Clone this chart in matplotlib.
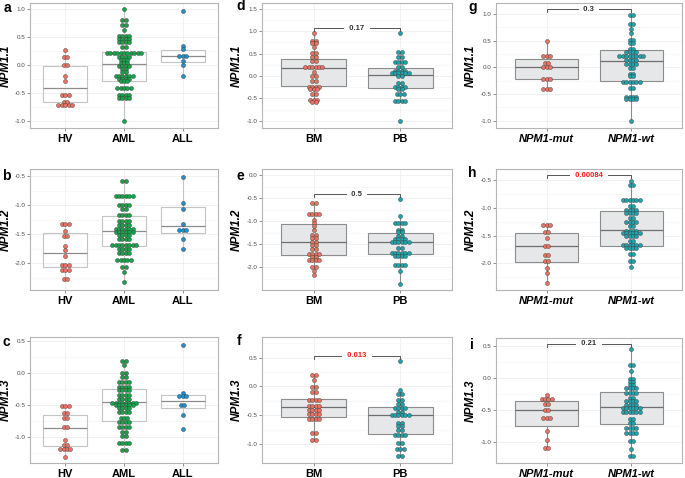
import numpy as np
import matplotlib
matplotlib.use('Agg')
import matplotlib.pyplot as plt
from matplotlib.ticker import MultipleLocator, FormatStrFormatter

plt.rcParams['font.family'] = ['Liberation Sans', 'DejaVu Sans']
plt.rcParams['axes.unicode_minus'] = False

FIG_W, FIG_H = 685, 478

# category labels
cat_disease = ['HV', 'AML', 'ALL']
cat_site = ['BM', 'PB']
cat_npm = ['NPM1-mut', 'NPM1-wt']

# ---- a: NPM1.1 by disease (dot level, dots at that level) ----
a_hv_vals = [0.28, 0.14, 0.0, -0.20, -0.29, -0.53, -0.65, -0.71]
a_hv_counts = [1, 2, 2, 1, 1, 3, 2, 5]
a_aml_vals = [1.0, 0.80, 0.71, 0.63, 0.53, 0.47, 0.41, 0.33, 0.22, 0.14, 0.09,
              0.04, -0.01, -0.06, -0.12, -0.20, -0.25, -0.29, -0.40, -0.53, -0.58, -1.0]
a_aml_counts = [1, 2, 2, 1, 4, 4, 4, 2, 11, 4, 3, 3, 4, 2, 2, 6, 4, 3, 5, 4, 4, 1]
a_all_vals = [0.96, 0.34, 0.29, 0.17, 0.08, 0.0, -0.19]
a_all_counts = [1, 1, 1, 3, 1, 1, 1]
a_q1 = [-0.66, -0.28, 0.05]
a_med = [-0.40, 0.03, 0.17]
a_q3 = [-0.01, 0.24, 0.28]

# ---- b: NPM1.2 by disease ----
b_hv_vals = [-1.33, -1.45, -1.53, -1.71, -1.78, -1.87, -2.03, -2.11, -2.27]
b_hv_counts = [3, 1, 2, 1, 1, 1, 3, 3, 2]
b_aml_vals = [-0.59, -0.84, -1.00, -1.07, -1.17, -1.27, -1.34, -1.41, -1.46, -1.51,
              -1.59, -1.69, -1.75, -1.82, -1.94, -2.07, -2.15, -2.33]
b_aml_counts = [2, 6, 4, 2, 4, 4, 4, 6, 6, 4, 4, 8, 4, 4, 5, 2, 1, 1]
b_all_vals = [-0.52, -0.96, -1.06, -1.33, -1.43, -1.58, -1.75]
b_all_counts = [1, 1, 1, 1, 3, 1, 1]
b_q1 = [-2.06, -1.71, -1.48]
b_med = [-1.83, -1.44, -1.36]
b_q3 = [-1.48, -1.19, -1.04]

# ---- c: NPM1.3 by disease ----
c_hv_vals = [-0.52, -0.63, -0.71, -0.85, -1.05, -1.12, -1.19, -1.31]
c_hv_counts = [3, 2, 2, 2, 1, 2, 4, 1]
c_aml_vals = [0.20, 0.13, 0.0, -0.06, -0.13, -0.22, -0.27, -0.34, -0.40, -0.46,
              -0.50, -0.55, -0.61, -0.70, -0.77, -0.84, -0.93, -0.98, -1.10, -1.21]
c_aml_counts = [2, 1, 2, 2, 4, 4, 4, 4, 4, 8, 6, 4, 4, 3, 4, 4, 2, 2, 4, 2]
c_all_vals = [0.45, -0.31, -0.36, -0.50, -0.65, -0.87]
c_all_counts = [1, 1, 3, 2, 1, 1]
c_q1 = [-1.15, -0.75, -0.55]
c_med = [-0.86, -0.45, -0.43]
c_q3 = [-0.65, -0.25, -0.34]

# ---- d: NPM1.1 by sample site ----
d_bm_vals = [0.97, 0.79, 0.73, 0.64, 0.51, 0.43, 0.33, 0.21, 0.10, -0.01, -0.12,
             -0.24, -0.29, -0.40, -0.54, -0.59]
d_bm_counts = [1, 2, 2, 1, 2, 2, 2, 6, 1, 2, 2, 4, 3, 2, 3, 2]
d_pb_vals = [0.95, 0.53, 0.43, 0.31, 0.21, 0.12, 0.06, -0.01, -0.16, -0.24, -0.29,
             -0.40, -0.55, -1.01]
d_pb_counts = [1, 2, 2, 4, 2, 4, 6, 2, 2, 4, 2, 3, 4, 1]
d_q1 = [-0.23, -0.27]
d_med = [0.18, 0.02]
d_q3 = [0.39, 0.19]
d_p = '0.17'

# ---- e: NPM1.2 by sample site ----
e_bm_vals = [-0.60, -0.84, -0.97, -1.03, -1.10, -1.18, -1.30, -1.37, -1.44, -1.52,
             -1.61, -1.71, -1.78, -1.84, -1.99, -2.08, -2.17]
e_bm_counts = [2, 4, 1, 1, 1, 1, 2, 2, 2, 2, 2, 4, 2, 4, 2, 1, 1]
e_pb_vals = [-0.53, -0.89, -1.03, -1.18, -1.23, -1.32, -1.39, -1.44, -1.59, -1.68,
             -1.75, -1.95, -2.07, -2.36]
e_pb_counts = [1, 1, 4, 2, 2, 2, 4, 6, 2, 6, 4, 4, 1, 1]
e_q1 = [-1.73, -1.70]
e_med = [-1.46, -1.46]
e_q3 = [-1.06, -1.25]
e_p = '0.5'

# ---- f: NPM1.3 by sample site ----
f_bm_vals = [0.20, 0.11, -0.01, -0.10, -0.23, -0.34, -0.41, -0.48, -0.56, -0.80, -0.93]
f_bm_counts = [2, 1, 2, 2, 4, 4, 4, 4, 4, 2, 2]
f_pb_vals = [0.45, -0.06, -0.13, -0.23, -0.31, -0.38, -0.44, -0.50, -0.63, -0.69,
             -0.75, -0.85, -0.98, -1.09, -1.21]
f_pb_counts = [1, 1, 2, 2, 2, 4, 2, 6, 2, 2, 2, 4, 2, 3, 2]
f_q1 = [-0.53, -0.83]
f_med = [-0.35, -0.50]
f_q3 = [-0.21, -0.36]
f_p = '0.013'

# ---- g: NPM1.1 by NPM1 status ----
g_mut_vals = [0.50, 0.22, 0.09, 0.0, -0.21, -0.41]
g_mut_counts = [1, 3, 2, 3, 3, 3]
g_wt_vals = [0.98, 0.81, 0.73, 0.65, 0.52, 0.45, 0.34, 0.29, 0.21, 0.14, 0.07,
             -0.02, -0.12, -0.17, -0.27, -0.38, -0.55, -0.60, -1.0]
g_wt_counts = [2, 2, 1, 1, 2, 2, 2, 4, 8, 4, 4, 2, 2, 2, 6, 2, 4, 4, 1]
g_q1 = [-0.21, -0.25]
g_med = [0.0, 0.12]
g_q3 = [0.16, 0.32]
g_p = '0.3'

# ---- h: NPM1.2 by NPM1 status ----
h_mut_vals = [-1.31, -1.44, -1.55, -1.68, -1.85, -1.96, -2.09, -2.17, -2.35]
h_mut_counts = [3, 2, 1, 2, 2, 2, 1, 1, 1]
h_wt_vals = [-0.52, -0.58, -0.86, -0.97, -1.04, -1.09, -1.19, -1.25, -1.33, -1.41,
             -1.45, -1.51, -1.59, -1.67, -1.73, -1.83, -1.96, -2.07]
h_wt_counts = [1, 2, 6, 2, 4, 4, 2, 4, 2, 4, 6, 4, 2, 6, 4, 2, 2, 1]
h_q1 = [-1.97, -1.68]
h_med = [-1.68, -1.40]
h_q3 = [-1.45, -1.05]
h_p = '0.00084'

# ---- i: NPM1.3 by NPM1 status ----
i_mut_vals = [-0.26, -0.33, -0.41, -0.50, -0.62, -0.82, -0.96, -1.08]
i_mut_counts = [1, 4, 2, 2, 3, 1, 1, 2]
i_wt_vals = [0.45, 0.20, 0.11, -0.01, -0.06, -0.11, -0.16, -0.23, -0.31, -0.36,
             -0.42, -0.47, -0.53, -0.63, -0.70, -0.77, -0.85, -0.98, -1.10, -1.21]
i_wt_counts = [1, 2, 1, 2, 2, 2, 4, 4, 2, 4, 4, 6, 6, 2, 2, 4, 4, 2, 1, 2]
i_q1 = [-0.74, -0.71]
i_med = [-0.49, -0.45]
i_q3 = [-0.35, -0.22]
i_p = '0.21'

RED = '#EB7163'
GREEN = '#16A34A'
BLUE = '#1F8FD0'
TEAL = '#1FA3AA'


def px_rect(left, top, right, bottom):
    return [left / FIG_W, 1 - bottom / FIG_H, (right - left) / FIG_W, (bottom - top) / FIG_H]


def draw_panel(rect, cats, groups, q1, med, q3, colors, ylim, yticks, ylabel, label_x,
               filled, italic_x=False, pval=None, pval_y=None, pval_color='#333333'):
    ax = fig.add_axes(px_rect(*rect))
    n = len(cats)
    xlim = (-0.6, n - 1 + 0.6)
    ax.set_xlim(*xlim)
    ax.set_ylim(*ylim)
    width_px = rect[2] - rect[0]
    step = 3.4 * (xlim[1] - xlim[0]) / width_px

    stats = []
    for k, (vals, counts) in enumerate(groups):
        data = np.repeat(vals, counts)
        iqr = q3[k] - q1[k]
        hi = data[data <= q3[k] + 1.5 * iqr].max()
        lo = data[data >= q1[k] - 1.5 * iqr].min()
        stats.append(dict(med=med[k], q1=q1[k], q3=q3[k], whislo=lo, whishi=hi, fliers=[]))

    if filled:
        box_face, box_edge, med_col = '#E6E7E8', '#8C8C8C', '#6E6E6E'
    else:
        box_face, box_edge, med_col = 'none', '#C4C4C4', '#8C8C8C'
    ax.bxp(stats, positions=range(n), widths=0.75, patch_artist=True, showcaps=False,
           showfliers=False,
           boxprops=dict(facecolor=box_face, edgecolor=box_edge, linewidth=0.8),
           medianprops=dict(color=med_col, linewidth=0.9),
           whiskerprops=dict(color=box_edge, linewidth=0.8), zorder=2)

    for k, (vals, counts) in enumerate(groups):
        xs, ys = [], []
        for v, c in zip(vals, counts):
            for j in range(c):
                xs.append(k + (j - (c - 1) / 2) * step)
                ys.append(v)
        ax.scatter(xs, ys, s=8.5, color=colors[k], edgecolor='#3A3A3A', linewidth=0.3, zorder=3)

    if pval is not None:
        drop = 0.022 * (ylim[1] - ylim[0])
        ax.plot([0, 0, 1, 1], [pval_y - drop, pval_y, pval_y, pval_y - drop],
                color='#555555', linewidth=0.7, zorder=4)
        ax.text(0.5, pval_y, '  ' + pval + '  ', ha='center', va='center', fontsize=5.5,
                fontweight='bold', color=pval_color, zorder=5,
                bbox=dict(facecolor='white', edgecolor='none', pad=0.6))

    ax.set_yticks(yticks)
    ax.yaxis.set_major_formatter(FormatStrFormatter('%.1f'))
    ax.yaxis.set_minor_locator(MultipleLocator(0.25))
    ax.set_xticks(range(n))
    ax.set_xticklabels(cats, fontsize=8, fontweight='bold',
                       fontstyle='italic' if italic_x else 'normal')
    ax.tick_params(axis='y', which='major', length=2, width=0.5, color='#666666',
                   labelsize=4.5, labelcolor='#4D4D4D', pad=1.5)
    ax.tick_params(axis='y', which='minor', length=0)
    ax.tick_params(axis='x', length=2, width=0.5, color='#666666', pad=2)
    ax.grid(True, which='major', color='#EBEBEB', linewidth=0.5)
    ax.grid(True, which='minor', axis='y', color='#F4F4F4', linewidth=0.4)
    ax.set_axisbelow(True)
    for sp in ax.spines.values():
        sp.set_color('#B5B5B5')
        sp.set_linewidth(0.8)
    ax.set_ylabel(ylabel, fontsize=8.5, fontweight='bold', fontstyle='italic')
    ax.yaxis.set_label_coords((label_x - rect[0]) / width_px, 0.5)
    return ax


fig = plt.figure(figsize=(FIG_W / 100, FIG_H / 100), dpi=100)

draw_panel((30, 3, 218, 128), cat_disease,
           [(a_hv_vals, a_hv_counts), (a_aml_vals, a_aml_counts), (a_all_vals, a_all_counts)],
           a_q1, a_med, a_q3, [RED, GREEN, BLUE], (-1.12, 1.11),
           [-1.0, -0.5, 0.0, 0.5, 1.0], 'NPM1.1', 12, False)
draw_panel((30, 169, 218, 290), cat_disease,
           [(b_hv_vals, b_hv_counts), (b_aml_vals, b_aml_counts), (b_all_vals, b_all_counts)],
           b_q1, b_med, b_q3, [RED, GREEN, BLUE], (-2.46, -0.38),
           [-2.0, -1.5, -1.0, -0.5], 'NPM1.2', 12, False)
draw_panel((30, 337, 218, 463), cat_disease,
           [(c_hv_vals, c_hv_counts), (c_aml_vals, c_aml_counts), (c_all_vals, c_all_counts)],
           c_q1, c_med, c_q3, [RED, GREEN, BLUE], (-1.41, 0.57),
           [-1.0, -0.5, 0.0, 0.5], 'NPM1.3', 12, False)

draw_panel((262, 3, 452, 128), cat_site,
           [(d_bm_vals, d_bm_counts), (d_pb_vals, d_pb_counts)],
           d_q1, d_med, d_q3, [RED, TEAL], (-1.16, 1.63),
           [-1.0, -0.5, 0.0, 0.5, 1.0, 1.5], 'NPM1.1', 243, True, pval=d_p, pval_y=1.07)
draw_panel((262, 169, 452, 290), cat_site,
           [(e_bm_vals, e_bm_counts), (e_pb_vals, e_pb_counts)],
           e_q1, e_med, e_q3, [RED, TEAL], (-2.49, 0.13),
           [-2.0, -1.5, -1.0, -0.5, 0.0], 'NPM1.2', 243, True, pval=e_p, pval_y=-0.42)
draw_panel((262, 337, 452, 463), cat_site,
           [(f_bm_vals, f_bm_counts), (f_pb_vals, f_pb_counts)],
           f_q1, f_med, f_q3, [RED, TEAL], (-1.33, 0.86),
           [-1.0, -0.5, 0.0, 0.5], 'NPM1.3', 243, True, pval=f_p, pval_y=0.53,
           pval_color='#FF1A1A')

draw_panel((496, 3, 682, 128), cat_npm,
           [(g_mut_vals, g_mut_counts), (g_wt_vals, g_wt_counts)],
           g_q1, g_med, g_q3, [RED, TEAL], (-1.14, 1.21),
           [-1.0, -0.5, 0.0, 0.5, 1.0], 'NPM1.1', 477, True, italic_x=True,
           pval=g_p, pval_y=1.09)
draw_panel((496, 169, 682, 290), cat_npm,
           [(h_mut_vals, h_mut_counts), (h_wt_vals, h_wt_counts)],
           h_q1, h_med, h_q3, [RED, TEAL], (-2.48, -0.30),
           [-2.0, -1.5, -1.0, -0.5], 'NPM1.2', 477, True, italic_x=True,
           pval=h_p, pval_y=-0.41, pval_color='#FF1A1A')
draw_panel((496, 338, 682, 463), cat_npm,
           [(i_mut_vals, i_mut_counts), (i_wt_vals, i_wt_counts)],
           i_q1, i_med, i_q3, [RED, TEAL], (-1.32, 0.62),
           [-1.0, -0.5, 0.0, 0.5], 'NPM1.3', 477, True, italic_x=True,
           pval=i_p, pval_y=0.53)

letters = [('a', 7, 8), ('b', 6, 176), ('c', 6, 342),
           ('d', 241, 6), ('e', 240, 176), ('f', 239, 341),
           ('g', 473, 7), ('h', 472, 173), ('i', 472, 345)]
for lab, x, y in letters:
    fig.text(x / FIG_W, 1 - y / FIG_H, lab, fontsize=10, fontweight='bold',
             ha='center', va='center')

fig.savefig('out.png', dpi=100)
